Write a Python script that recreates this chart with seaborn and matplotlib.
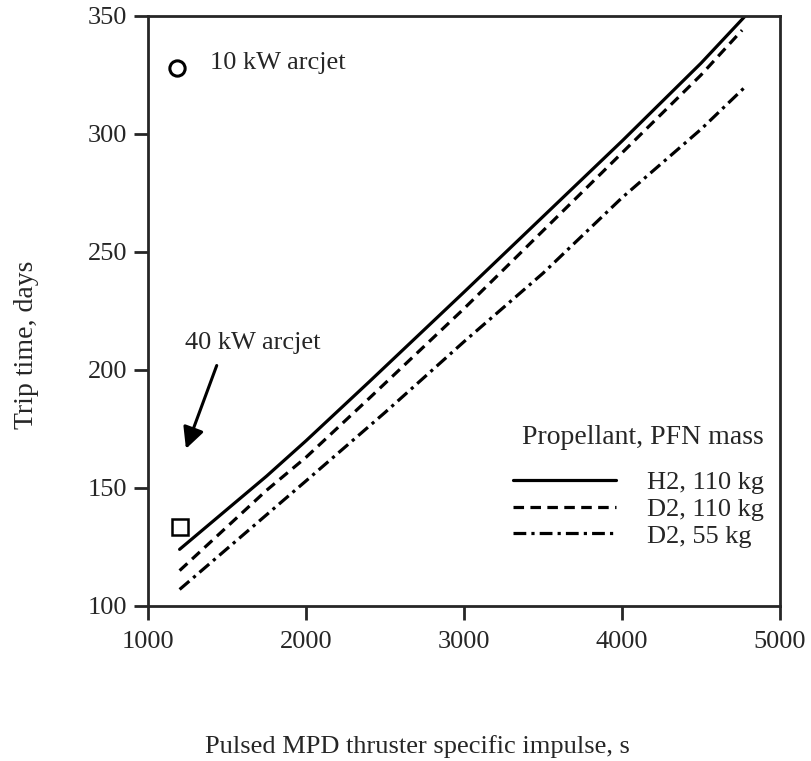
import numpy as np
import pandas as pd
import matplotlib
matplotlib.use('Agg')
import matplotlib.pyplot as plt
import seaborn as sns

# data
isp_h2_110 = [1200, 1750, 2000, 2400, 3000, 3500, 4000, 4500, 4780]
trip_h2_110 = [124, 155, 170, 195, 233, 265, 297, 330, 350]

isp_d2_110 = [1200, 1750, 2000, 2400, 3000, 3500, 4000, 4500, 4760]
trip_d2_110 = [115, 149, 163, 188, 226, 259, 292, 325, 344]

isp_d2_55 = [1200, 2000, 2500, 3000, 3500, 4000, 4500, 4780]
trip_d2_55 = [107, 153, 182, 212, 241, 273, 302, 320]

series_labels = ['H2, 110 kg', 'D2, 110 kg', 'D2, 55 kg']

arcjet10_isp, arcjet10_trip = [1185], [328]
arcjet40_isp, arcjet40_trip = [1200], [133.5]

sns.set_style('ticks')
plt.rcParams['font.family'] = ['Liberation Serif', 'DejaVu Serif']
plt.rcParams['font.size'] = 19

fig = plt.figure(figsize=(8.11, 7.61), dpi=100)
ax = fig.add_axes([0.1825, 0.2037, 0.7793, 0.7753])

df = pd.concat([
    pd.DataFrame({'isp': isp_h2_110, 'trip': trip_h2_110, 'case': series_labels[0]}),
    pd.DataFrame({'isp': isp_d2_110, 'trip': trip_d2_110, 'case': series_labels[1]}),
    pd.DataFrame({'isp': isp_d2_55, 'trip': trip_d2_55, 'case': series_labels[2]}),
])

styles = {
    series_labels[0]: '',
    series_labels[1]: (3.3, 2),
    series_labels[2]: (4, 1.6, 1, 1.6),
}
sns.lineplot(data=df, x='isp', y='trip', style='case', dashes=styles,
             color='black', linewidth=2.3, ax=ax, legend=True, sort=False)

ax.plot(arcjet10_isp, arcjet10_trip, 'o', ms=11, mfc='white', mec='black', mew=2.2)
ax.plot(arcjet40_isp, arcjet40_trip, 's', ms=12, mfc='white', mec='black', mew=1.8)

ax.text(1392, 330, '10 kW arcjet', fontsize=19, va='center', ha='left')
ax.text(1234, 211.5, '40 kW arcjet', fontsize=19, va='center', ha='left')
ax.annotate('', xy=(1234, 165.5), xytext=(1441, 203),
            arrowprops=dict(arrowstyle='-|>', color='black', lw=2.2,
                            mutation_scale=32))

ax.set_xlim(1000, 5000)
ax.set_ylim(100, 350)
ax.set_xticks([1000, 2000, 3000, 4000, 5000])
ax.set_yticks([100, 150, 200, 250, 300, 350])
ax.tick_params(direction='out', length=10, width=2, labelsize=19)
ax.tick_params(axis='x', pad=8)
ax.tick_params(axis='y', pad=5)
for s in ax.spines.values():
    s.set_linewidth(2)

ax.set_xlabel('Pulsed MPD thruster specific impulse, s', fontsize=19)
ax.set_ylabel('Trip time, days', fontsize=20)
ax.xaxis.set_label_coords(0.426, -0.218)
ax.yaxis.set_label_coords(-0.172, 0.442)

leg = ax.legend(title='Propellant, PFN mass', loc='lower right',
                bbox_to_anchor=(1.0, 0.072), frameon=False, fontsize=19,
                title_fontsize=20, handlelength=3.9, handletextpad=1.2,
                labelspacing=0.12, borderaxespad=0.2, alignment='right')
for h in leg.get_lines():
    h.set_linewidth(2.3)
leg.get_title().set_position((0, 18))

fig.savefig('out.png', dpi=100)
